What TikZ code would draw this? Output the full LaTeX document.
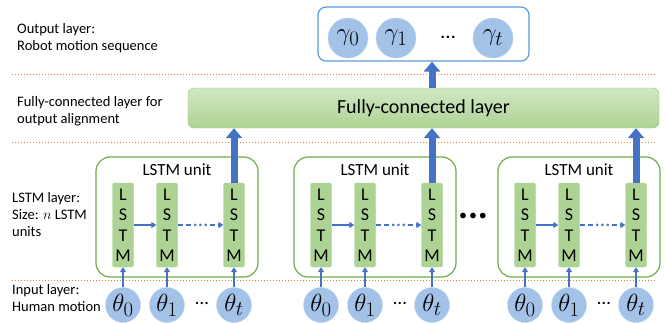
\documentclass[tikz,border=0pt]{standalone}
\usepackage{fontspec}
\setmainfont{Carlito}
\usetikzlibrary{arrows.meta}
\definecolor{myblue}{HTML}{4472C4}
\definecolor{outblue}{HTML}{5B9BD5}
\definecolor{circblue}{HTML}{A3C2E8}
\definecolor{circrim}{HTML}{BDD5EF}
\definecolor{cellgreen}{HTML}{ADD394}
\definecolor{unitgreen}{HTML}{70AD47}
\definecolor{fcgreen}{HTML}{92C474}
\definecolor{divorange}{HTML}{ED7D31}
\begin{document}
\begin{tikzpicture}[x=1pt, y=-1pt,
    mytext/.style={anchor=west, align=left, inner sep=0pt, font=\fontsize{14.5}{17}\selectfont},
    mycell/.style={rectangle, draw=cellgreen, fill=cellgreen, rounded corners=2pt, minimum width=21pt, minimum height=84pt, inner sep=0pt, align=center, font=\fontsize{18}{20.5}\selectfont},
    myunit/.style={rectangle, draw=unitgreen, line width=1.2pt, fill=white, rounded corners=14pt, minimum width=162pt, minimum height=120pt},
    mycircle/.style={circle, draw=circrim, fill=circblue, minimum size=35pt, inner sep=0pt, font=\Huge},
    mydots/.style={inner sep=1pt, font=\fontsize{21}{21}\selectfont},
    myarrow/.style={-{Triangle[length=5pt,width=6pt]}, line width=1.5pt, myblue},
    mybig/.style={-{Triangle[length=10pt,width=16pt]}, line width=7pt, myblue},
    mydiv/.style={dotted, line width=1pt, divorange},
]
\useasboundingbox (0,0) rectangle (665,322);

\draw[mydiv] (12,74) -- (655,74);
\draw[mydiv] (12,142) -- (655,142);
\draw[mydiv] (12,280) -- (655,280);

\node[mytext] (l-out) at (17,38) {Output layer:\\Robot motion sequence};
\node[mytext] (l-fc) at (17,111) {Fully-connected layer for\\output alignment};
\node[mytext] (l-lstm) at (12,215) {LSTM layer:\\Size: $n$ LSTM\\units};
\node[mytext] (l-in) at (12,298) {Input layer:\\Human motion};

\node[rectangle, draw=outblue, line width=1.2pt, fill=white, rounded corners=8pt, minimum width=211pt, minimum height=54pt] (out) at (423.5,34) {};
\node[mycircle, minimum size=40pt] (g0) at (348,38) {$\gamma_0$};
\node[mycircle, minimum size=40pt] (g1) at (396,38) {$\gamma_1$};
\node[mycircle, minimum size=40pt] (gt) at (493,38) {$\gamma_t$};
\node[mydots] (gd) at (448,37) {…};

\node[rectangle, draw=fcgreen, top color=cellgreen!55, bottom color=cellgreen, rounded corners=6pt, minimum width=471pt, minimum height=40pt, font=\fontsize{20}{20}\selectfont] (fc) at (423.5,108) {Fully-connected layer};

\foreach \u/\x in {1/96, 2/294, 3/498} {
    \node[myunit] (u\u) at (\x+81,217) {};
    \node[font=\fontsize{17}{17}\selectfont, inner sep=0pt] (u\u-lbl) at (\x+81,170) {LSTM unit};
    \node[mycell] (u\u-c1) at (\x+27,225) {L\\S\\T\\M};
    \node[mycell] (u\u-c2) at (\x+71,225) {L\\S\\T\\M};
    \node[mycell] (u\u-c3) at (\x+138,225) {L\\S\\T\\M};
    \node[mycircle] (u\u-t0) at (\x+27,305) {$\theta_0$};
    \node[mycircle] (u\u-t1) at (\x+71,305) {$\theta_1$};
    \node[mycircle] (u\u-tt) at (\x+138,305) {$\theta_t$};
    \node[mydots, font=\fontsize{19}{19}\selectfont] (u\u-td) at (\x+106,303) {…};
    \draw[myarrow] (u\u-c1) -- (u\u-c2);
    \draw[myarrow, dash pattern=on 5pt off 3pt] (u\u-c2) -- node[mydots, fill=white] (u\u-cd) {…} (u\u-c3);
    \draw[myarrow] (u\u-t0) -- (u\u-c1);
    \draw[myarrow] (u\u-t1) -- (u\u-c2);
    \draw[myarrow] (u\u-tt) -- (u\u-c3);
    \draw[mybig] (u\u-c3.north) -- (u\u-c3 |- fc.south);
}
\node[font=\fontsize{16}{16}\selectfont, inner sep=0pt] (ud) at (473,217) {\textbullet\hspace{2pt}\textbullet\hspace{2pt}\textbullet};

\draw[mybig] (u2-c3 |- fc.north) -- (u2-c3 |- out.south);
\end{tikzpicture}
\end{document}
